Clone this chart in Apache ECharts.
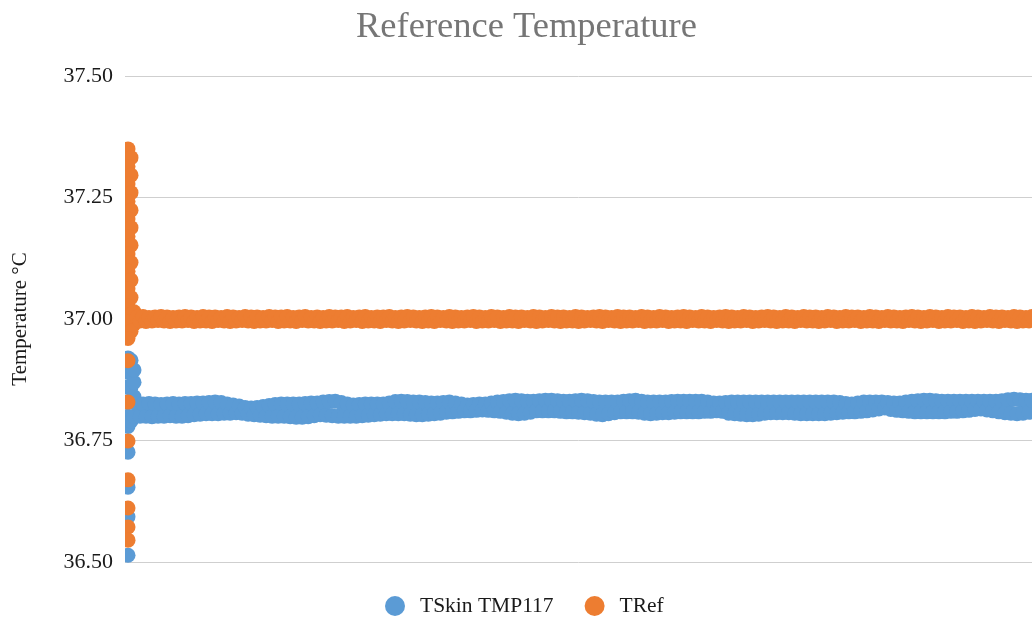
<!DOCTYPE html>
<html>
<head>
<meta charset="utf-8">
<script src="https://cdn.jsdelivr.net/npm/echarts@6/dist/echarts.min.js"></script>
<style>
html,body{margin:0;padding:0;background:#fff;}
#chart{width:1032px;height:617px;}
</style>
</head>
<body>
<div id="chart"></div>
<script>
const titleText = 'Reference Temperature';
const yAxisName = 'Temperature °C';
const seriesNames = ['TSkin TMP117', 'TRef'];
const yTicks = [36.50, 36.75, 37.00, 37.25, 37.50];

// start-up samples: [sample index, value]
const blueStartup = [
  [1,36.514],[1,36.593],[1,36.654],[1,36.726],[1,36.779],[1,36.800],[1,36.830],[1,36.860],[1,36.890],[1,36.920],
  [2,36.790],[2,36.830],[2,36.860],[2,36.890],[2,36.915],
  [3,36.800],[3,36.840],[3,36.870],[3,36.895]
];
const orangeStartup = [
  [1,37.350],[2,37.332],[1,37.314],[2,37.296],[1,37.278],[2,37.260],[1,37.242],[2,37.224],[1,37.206],[2,37.188],
  [1,37.170],[2,37.152],[1,37.134],[2,37.116],[1,37.098],[2,37.080],[1,37.062],[2,37.044],[1,37.026],[2,37.010],
  [3,37.015],[3,36.990],[1,36.995],[2,36.975],[1,36.960],[1,36.914],[1,36.829],[1,36.749],[1,36.669],[1,36.611],[1,36.572],[1,36.545]
];

// steady-state samples from index 4 onward
const blueSteady = [
36.825,36.800,36.825,36.800,36.826,36.799,36.825,36.800,36.824,36.800,36.825,36.801,
36.826,36.800,36.825,36.800,36.826,36.801,36.826,36.803,36.827,36.804,36.827,36.805,
36.828,36.805,36.829,36.805,36.828,36.806,36.825,36.806,36.823,36.807,36.821,36.806,
36.818,36.804,36.817,36.803,36.818,36.802,36.820,36.801,36.822,36.800,36.824,36.800,
36.825,36.800,36.825,36.799,36.825,36.798,36.825,36.798,36.826,36.799,36.827,36.801,
36.827,36.803,36.829,36.802,36.830,36.801,36.831,36.800,36.828,36.800,36.825,36.800,
36.823,36.800,36.824,36.801,36.825,36.802,36.825,36.803,36.825,36.804,36.825,36.805,
36.827,36.805,36.830,36.805,36.831,36.805,36.830,36.804,36.829,36.803,36.829,36.803,
36.828,36.804,36.827,36.805,36.827,36.806,36.828,36.808,36.829,36.809,36.827,36.810,
36.825,36.811,36.823,36.811,36.824,36.812,36.825,36.813,36.825,36.812,36.827,36.811,
36.829,36.810,36.830,36.808,36.832,36.806,36.833,36.805,36.832,36.806,36.831,36.808,
36.831,36.811,36.832,36.811,36.833,36.811,36.833,36.811,36.832,36.810,36.831,36.809,
36.831,36.809,36.832,36.808,36.833,36.807,36.832,36.806,36.830,36.804,36.829,36.803,
36.829,36.805,36.829,36.807,36.829,36.809,36.831,36.809,36.832,36.809,36.833,36.808,
36.831,36.806,36.829,36.805,36.829,36.806,36.829,36.807,36.829,36.807,36.830,36.808,
36.831,36.809,36.831,36.809,36.831,36.809,36.831,36.809,36.831,36.810,36.829,36.810,
36.827,36.811,36.827,36.810,36.828,36.806,36.829,36.805,36.829,36.804,36.829,36.803,
36.829,36.803,36.829,36.804,36.829,36.806,36.829,36.807,36.829,36.807,36.829,36.807,
36.829,36.807,36.829,36.806,36.829,36.805,36.829,36.805,36.829,36.805,36.829,36.805,
36.829,36.805,36.829,36.806,36.829,36.807,36.828,36.808,36.826,36.809,36.825,36.809,
36.827,36.810,36.829,36.811,36.829,36.813,36.829,36.815,36.829,36.817,36.828,36.814,
36.827,36.812,36.827,36.811,36.829,36.810,36.831,36.809,36.832,36.809,36.833,36.809,
36.833,36.809,36.832,36.809,36.831,36.809,36.831,36.810,36.831,36.810,36.831,36.811,
36.831,36.812,36.831,36.814,36.831,36.815,36.831,36.813,36.831,36.811,36.831,36.809,
36.832,36.807,36.834,36.806,36.835,36.805,36.834,36.806,36.833,36.808,36.833,36.809
];
const orangeSteady = [
37.004,36.996,37.005,36.995,37.003,36.996,37.004,36.997,37.005,36.996,37.004,36.995,
37.003,36.996,37.004,36.996,37.005,36.997,37.004,36.995,37.003,36.996,37.005,36.996,
37.004,36.995,37.004,36.997,37.003,36.996,37.005,36.995,37.004,36.996,37.003,36.997,
37.005,36.996,37.004,36.995,37.004,36.996,37.003,36.996,37.005,36.997,37.004,36.995,
37.004,36.996,37.005,36.996,37.003,36.995,37.004,36.997,37.005,36.996,37.003,36.996,
37.004,36.995,37.003,36.996,37.005,36.996,37.004,36.997,37.004,36.995,37.005,36.996,
37.003,36.997,37.004,36.995,37.005,36.996,37.003,36.996,37.004,36.995,37.004,36.997,
37.005,36.996,37.003,36.995,37.004,36.996,37.005,36.997,37.004,36.996,37.003,36.995,
37.004,36.996,37.005,36.995,37.004,36.997,37.003,36.996,37.005,36.995,37.004,36.996,
37.003,36.996,37.004,36.997,37.005,36.995,37.004,36.996,37.003,36.996,37.005,36.997,
37.004,36.995,37.003,36.996,37.005,36.996,37.004,36.995,37.004,36.997,37.003,36.996,
37.005,36.995,37.004,36.996,37.003,36.997,37.005,36.996,37.004,36.995,37.004,36.996,
37.003,36.996,37.005,36.995,37.004,36.996,37.003,36.997,37.004,36.996,37.005,36.995,
37.004,36.997,37.003,36.996,37.005,36.995,37.004,36.996,37.004,36.996,37.003,36.997,
37.005,36.995,37.004,36.996,37.003,36.996,37.005,36.997,37.004,36.995,37.003,36.996,
37.004,36.996,37.005,36.995,37.004,36.997,37.003,36.996,37.005,36.996,37.004,36.995,
37.003,36.997,37.004,36.996,37.005,36.995,37.004,36.996,37.003,36.996,37.005,36.997,
37.004,36.995,37.003,36.996,37.004,36.997,37.005,36.996,37.004,36.995,37.003,36.996,
37.005,36.996,37.004,36.995,37.003,36.997,37.005,36.996,37.004,36.996,37.004,36.995,
37.003,36.996,37.005,36.997,37.004,36.995,37.003,36.996,37.005,36.996,37.004,36.997,
37.004,36.995,37.003,36.996,37.005,36.996,37.004,36.995,37.003,36.997,37.005,36.996,
37.004,36.996,37.003,36.995,37.004,36.997,37.005,36.996,37.004,36.995,37.003,36.996,
37.005,36.997,37.004,36.995,37.003,36.996,37.005,36.996,37.004,36.997,37.004,36.995,
37.003,36.996,37.005,36.995,37.004,36.996,37.003,36.997,37.005,36.996,37.004,36.995,
37.004,36.997,37.003,36.996,37.005,36.995,37.004,36.996,37.003,36.996,37.005,36.997
];
const steadyStart = 4;

const FONT = '"Liberation Serif", "Times New Roman", "DejaVu Serif", serif';
const BLUE = '#5B9BD5';
const ORANGE = '#ED7D31';

function build(startup, steady) {
  return startup.concat(steady.map((v, i) => [i + steadyStart, v]));
}

const chart = echarts.init(document.getElementById('chart'), null, {renderer: 'canvas'});
chart.setOption({
  animation: false,
  backgroundColor: '#ffffff',
  title: {
    text: titleText,
    left: 351,
    top: 4,
    textStyle: {fontFamily: FONT, fontSize: 36.5, fontWeight: 'normal', color: '#767676'}
  },
  legend: {
    data: seriesNames,
    top: 590,
    left: 380,
    icon: 'circle',
    itemWidth: 40,
    itemHeight: 20,
    itemGap: 31,
    textStyle: {fontFamily: FONT, fontSize: 21.5, color: '#1a1a1a'}
  },
  grid: {left: 125, right: 0, top: 76, bottom: 55, containLabel: false},
  xAxis: {
    type: 'value',
    min: 0,
    max: 302,
    axisLine: {show: false},
    axisTick: {show: false},
    axisLabel: {show: false},
    splitLine: {show: false}
  },
  yAxis: {
    type: 'value',
    min: yTicks[0],
    max: yTicks[yTicks.length - 1],
    interval: 0.25,
    name: yAxisName,
    nameLocation: 'middle',
    nameRotate: 90,
    nameGap: 94,
    nameTextStyle: {fontFamily: FONT, fontSize: 21, color: '#1a1a1a'},
    axisLine: {show: false},
    axisTick: {show: false},
    axisLabel: {
      margin: 12,
      fontFamily: FONT,
      fontSize: 22,
      color: '#1a1a1a',
      formatter: v => v.toFixed(2)
    },
    splitLine: {lineStyle: {color: '#cfcfcf', width: 1}}
  },
  graphic: [{
    type: 'rect',
    shape: {x: 115, y: 130, width: 10, height: 440},
    style: {fill: '#ffffff'},
    z: 100,
    silent: true
  }],
  series: [
    {
      name: seriesNames[0],
      type: 'scatter',
      symbol: 'circle',
      symbolSize: 15,
      itemStyle: {color: BLUE, opacity: 1},
      data: build(blueStartup, blueSteady)
    },
    {
      name: seriesNames[1],
      type: 'scatter',
      symbol: 'circle',
      symbolSize: 15,
      itemStyle: {color: ORANGE, opacity: 1},
      data: build(orangeStartup, orangeSteady)
    }
  ]
});
</script>
</body>
</html>
